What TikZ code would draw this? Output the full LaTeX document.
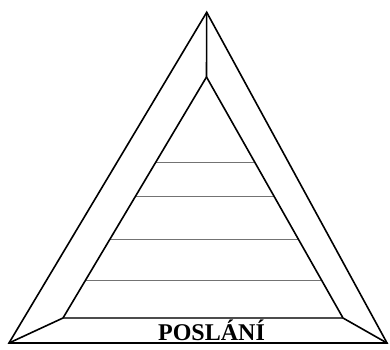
\documentclass[tikz,border=0pt]{standalone}
\usepackage{fontspec}
\setmainfont{Liberation Serif}
\begin{document}
\begin{tikzpicture}[x=1pt,y=-1pt,
  edge/.style={line width=1.6pt,black,line join=miter},
  band/.style={line width=1.2pt,black!55},
  lbl/.style={font=\bfseries\fontsize{24}{24}\selectfont,anchor=base,inner sep=0pt}]
\useasboundingbox (0,0) rectangle (390,349);
\coordinate (OA) at (206.7,12.3);
\coordinate (OL) at (9,343);
\coordinate (OR) at (387,343);
\coordinate (IA) at (206.5,77);
\coordinate (IL) at (63,318);
\coordinate (IR) at (343,318);
% bands
\foreach \y/\n in {162.7/a,196.7/b,239.3/c,280.7/d}{
  \path (IA) -- (IL) coordinate[pos={(\y-77)/241}] (l\n);
  \path (IA) -- (IR) coordinate[pos={(\y-77)/241}] (r\n);
  \draw[band] (l\n) -- (r\n);
}
\draw[band,black!70] (IL) -- (IR);
\draw[edge] (OA) -- (OL) -- (OR) -- cycle;
\draw[edge] (IA) -- (IL);
\draw[edge] (IA) -- (IR);
\draw[edge] (OA) -- (IA);
\draw[edge] (OL) -- (IL);
\draw[edge] (OR) -- (IR);
\node[lbl] (t) at (211.5,340) {POSLÁNÍ};
\end{tikzpicture}
\end{document}
